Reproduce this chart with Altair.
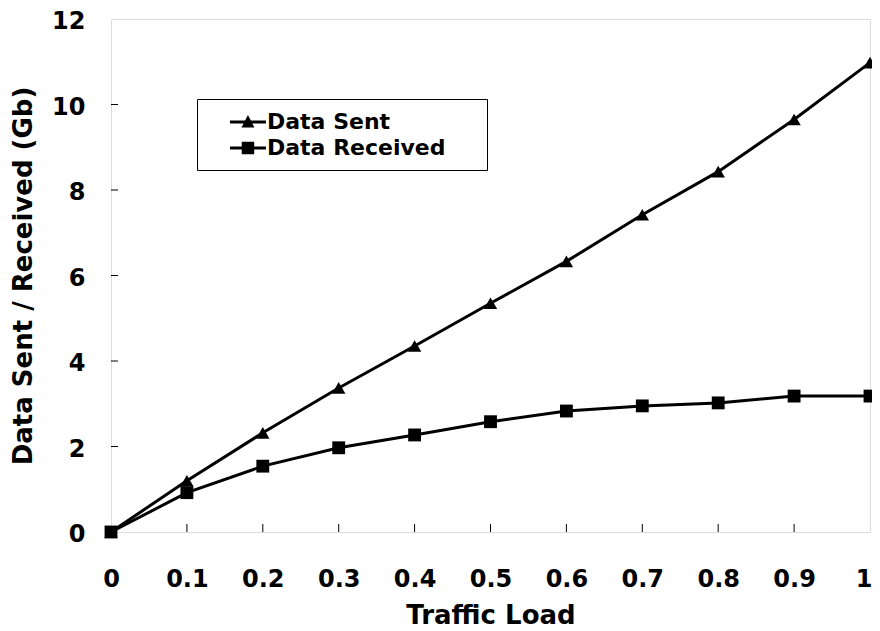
import altair as alt
import pandas as pd

# ---- data ----
traffic_load = [0, 0.1, 0.2, 0.3, 0.4, 0.5, 0.6, 0.7, 0.8, 0.9, 1.0]
data_sent = [0, 1.20, 2.32, 3.37, 4.35, 5.35, 6.33, 7.42, 8.43, 9.65, 10.98]
data_received = [0, 0.92, 1.54, 1.97, 2.27, 2.58, 2.83, 2.95, 3.02, 3.18, 3.18]
series_names = ["Data Sent", "Data Received"]
x_tick_values = [0, 0.1, 0.2, 0.3, 0.4, 0.5, 0.6, 0.7, 0.8, 0.9, 1]
y_tick_values = [0, 2, 4, 6, 8, 10, 12]
x_inner_ticks = [0.1, 0.2, 0.3, 0.4, 0.5, 0.6, 0.7, 0.8, 0.9]
y_inner_ticks = [2, 4, 6, 8, 10]

rows = []
for i, x in enumerate(traffic_load):
    rows.append({"load": x, "value": data_sent[i], "series": series_names[0]})
    rows.append({"load": x, "value": data_received[i], "series": series_names[1]})
df = pd.DataFrame(rows)

FONT = "DejaVu Sans"
W, H = 759, 513

xscale = alt.Scale(domain=[0, 1], nice=False, zero=False)
yscale = alt.Scale(domain=[0, 12], nice=False)

x_enc = alt.X(
    "load:Q", scale=xscale, title="Traffic Load",
    axis=alt.Axis(values=x_tick_values, format="~g", ticks=False, tickSize=0,
                  domain=False, grid=False, labelPadding=35, labelFlush=False,
                  labelOverlap=False,
                  labelAlign={"condition": {"test": "datum.value >= 1", "value": "right"},
                              "value": "center"},
                  labelOffset={"condition": {"test": "datum.value >= 1", "value": 2},
                               "value": 0},
                  labelFont=FONT, labelFontSize=24, labelFontWeight="bold",
                  labelColor="black", labelBaseline="top",
                  titleFont=FONT, titleFontSize=26, titleFontWeight="bold",
                  titleColor="black", titleBaseline="alphabetic",
                  titleX=W / 2, titleY=91, titleAlign="center"))
y_enc = alt.Y(
    "value:Q", scale=yscale, title="Data Sent / Received (Gb)",
    axis=alt.Axis(values=y_tick_values, format="d", ticks=False, tickSize=0,
                  domain=False, grid=False, labelPadding=26, labelFlush=False,
                  labelOverlap=False, labelOffset=2.5,
                  labelFont=FONT, labelFontSize=24, labelFontWeight="bold",
                  labelColor="black",
                  titleFont=FONT, titleFontSize=26, titleFontWeight="bold",
                  titleColor="black", titleBaseline="alphabetic",
                  titleAngle=-90, titleX=-80, titleY=H / 2, titleAlign="center"))

base = alt.Chart(df)

lines = base.mark_line(color="black", strokeWidth=3).encode(
    x=x_enc, y=y_enc, detail="series:N")

sent_pts = base.transform_filter(alt.datum.series == series_names[0]).mark_point(
    shape="triangle-up", filled=True, color="black", size=180, opacity=1
).encode(x=alt.X("load:Q", scale=xscale), y=alt.Y("value:Q", scale=yscale))

recv_pts = base.transform_filter(alt.datum.series == series_names[1]).mark_point(
    shape="square", filled=True, color="black", size=165, opacity=1
).encode(x=alt.X("load:Q", scale=xscale), y=alt.Y("value:Q", scale=yscale))

# legend symbols: line segment with marker (custom paths, unit = 12px);
# the trailing zero-area subpath only widens the legend box
tri_path = ("M0.83,-0.13H3.83V0.13H0.83Z M1.79,0.45L2.33,-0.58L2.87,0.45Z "
            "M21.3,0L21.3,0.001Z")
sq_path = ("M0.83,-0.13H3.83V0.13H0.83Z M1.81,-0.52H2.85V0.52H1.81Z "
           "M21.3,0L21.3,0.001Z")

legend_layer = base.transform_filter("false").mark_point(
    filled=True, color="black"
).encode(
    x=alt.X("load:Q", scale=xscale),
    y=alt.Y("value:Q", scale=yscale),
    shape=alt.Shape(
        "series:N",
        scale=alt.Scale(domain=series_names, range=[tri_path, sq_path]),
        legend=alt.Legend(
            title=None, orient="none", legendX=86, legendY=80,
            symbolSize=576, symbolFillColor="black", symbolStrokeColor="black",
            symbolStrokeWidth=0, symbolOpacity=1,
            labelFont=FONT, labelFontSize=22, labelFontWeight="bold",
            labelColor="black", labelOffset=35, rowPadding=3,
            padding=11, strokeColor="black", fillColor="white",
            labelLimit=400)))

tick_df_y = pd.DataFrame({"value": y_inner_ticks})
tick_df_x = pd.DataFrame({"load": x_inner_ticks})

y_ticks = alt.Chart(tick_df_y).mark_rule(color="black", strokeWidth=1).encode(
    y=alt.Y("value:Q", scale=yscale), x=alt.value(0), x2=alt.value(7))
x_ticks = alt.Chart(tick_df_x).mark_rule(color="black", strokeWidth=1).encode(
    x=alt.X("load:Q", scale=xscale), y=alt.value(H), y2=alt.value(H - 8))

chart = alt.layer(
    lines, y_ticks, x_ticks, sent_pts, recv_pts, legend_layer
).properties(
    width=W, height=H,
    autosize=alt.AutoSizeParams(type="none"),
    padding={"left": 103, "top": 11, "right": 2, "bottom": 100},
).configure_view(
    stroke="black", strokeWidth=1.5
).configure(background="white")

chart.save("out.html", embed_options={"renderer": "svg", "actions": False})
